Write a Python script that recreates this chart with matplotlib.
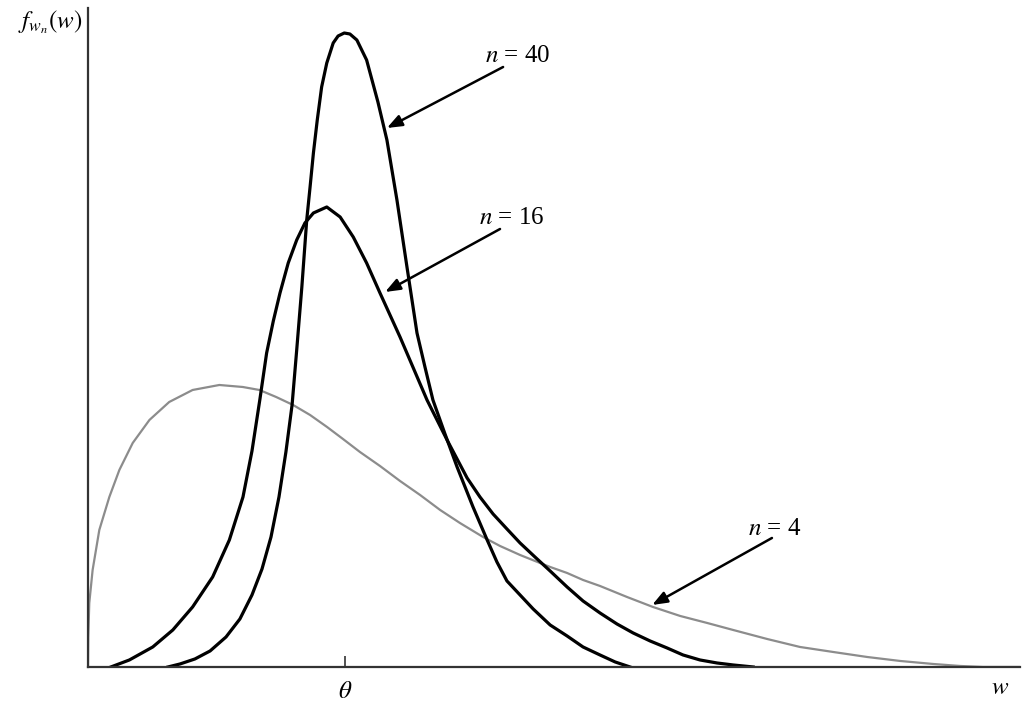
import matplotlib
matplotlib.use("Agg")
import matplotlib.pyplot as plt

plt.rcParams['mathtext.fontset'] = 'stix'
plt.rcParams['font.family'] = 'Liberation Serif'

# values (theta = 1, density in arbitrary units)
w_n40 = [0.311, 0.358, 0.416, 0.475, 0.537, 0.591, 0.638, 0.677, 0.712, 0.743, 0.770, 0.794,
         0.812, 0.832, 0.851, 0.864, 0.877, 0.892, 0.909, 0.929, 0.954, 0.973, 0.997,
         1.019, 1.046, 1.084, 1.128, 1.163, 1.202, 1.241, 1.280, 1.311, 1.342, 1.389, 1.436,
         1.498, 1.553, 1.591, 1.630, 1.681, 1.732, 1.798, 1.864, 1.926, 1.992, 2.051, 2.109]
f_n40 = [0, 0.03, 0.08, 0.16, 0.30, 0.48, 0.72, 0.98, 1.30, 1.70, 2.15, 2.62,
         3.17, 3.80, 4.47, 4.80, 5.14, 5.47, 5.80, 6.04, 6.24, 6.31, 6.34,
         6.33, 6.27, 6.07, 5.65, 5.27, 4.67, 4.00, 3.34, 3.00, 2.67, 2.33, 2.00,
         1.60, 1.27, 1.05, 0.86, 0.72, 0.58, 0.42, 0.31, 0.20, 0.12, 0.05, 0]

w_n16 = [0.089, 0.161, 0.252, 0.330, 0.407, 0.485, 0.550, 0.603, 0.638, 0.669, 0.695, 0.721,
         0.747, 0.779, 0.812, 0.844, 0.877, 0.929, 0.981, 1.032, 1.084, 1.136, 1.214, 1.319,
         1.397, 1.436, 1.475, 1.525, 1.576, 1.630, 1.681, 1.739, 1.798, 1.864, 1.926, 1.992,
         2.058, 2.121, 2.187, 2.253, 2.315, 2.381, 2.447, 2.510, 2.588]
f_n16 = [0, 0.07, 0.20, 0.37, 0.60, 0.90, 1.27, 1.70, 2.16, 2.68, 3.14, 3.46,
         3.74, 4.04, 4.27, 4.44, 4.54, 4.60, 4.50, 4.30, 4.04, 3.74, 3.30, 2.67,
         2.27, 2.08, 1.89, 1.70, 1.53, 1.38, 1.24, 1.10, 0.96, 0.80, 0.66, 0.54,
         0.43, 0.34, 0.26, 0.19, 0.12, 0.07, 0.04, 0.02, 0]

w_n4 = [0, 0.001, 0.005, 0.018, 0.044, 0.083, 0.122, 0.174, 0.239, 0.316, 0.407, 0.511,
        0.602, 0.667, 0.732, 0.798, 0.864, 0.930, 0.992, 1.058, 1.136, 1.214, 1.292, 1.370,
        1.447, 1.537, 1.603, 1.681, 1.739, 1.798, 1.864, 1.926, 1.992, 2.097, 2.198, 2.304,
        2.409, 2.510, 2.642, 2.770, 2.899, 3.031, 3.160, 3.288, 3.393, 3.482, 3.626]
f_n4 = [0, 0.30, 0.64, 0.97, 1.37, 1.70, 1.97, 2.24, 2.47, 2.65, 2.77, 2.82,
        2.80, 2.77, 2.70, 2.62, 2.52, 2.40, 2.28, 2.15, 2.01, 1.86, 1.72, 1.57,
        1.44, 1.30, 1.21, 1.12, 1.06, 1.00, 0.94, 0.87, 0.81, 0.70, 0.60, 0.51,
        0.44, 0.37, 0.28, 0.20, 0.15, 0.10, 0.06, 0.03, 0.01, 0, 0]

labels = [r'$n$ = 40', r'$n$ = 16', r'$n$ = 4']
theta = 1.0

fig = plt.figure(figsize=(10.28, 7.02), dpi=100)
ax = fig.add_axes([0.0856, 0.0499, 0.9066, 0.9387])

ax.plot(w_n4, f_n4, color='#8c8c8c', lw=1.6, solid_joinstyle='round')
ax.plot(w_n16, f_n16, color='black', lw=2.3, solid_joinstyle='round')
ax.plot(w_n40, f_n40, color='black', lw=2.3, solid_joinstyle='round')

ax.set_xlim(0, 3.626)
ax.set_ylim(0, 6.59)

for s in ['top', 'right']:
    ax.spines[s].set_visible(False)
for s in ['left', 'bottom']:
    ax.spines[s].set_linewidth(1.6)
    ax.spines[s].set_color('#333333')

ax.set_yticks([])
ax.set_xticks([theta])
ax.set_xticklabels([r'$\theta$'], fontsize=18)
ax.tick_params(axis='x', direction='in', length=8, width=1.2, pad=10, color='#333333')

# labels and arrows
text_pos = [(1.673, 6.11), (1.650, 4.49), (2.673, 1.38)]
tails = [(1.615, 6.00), (1.603, 4.38), (2.661, 1.29)]
heads = [(1.163, 5.39), (1.156, 3.75), (2.195, 0.62)]
for lab, tp, t, h in zip(labels, text_pos, tails, heads):
    ax.text(tp[0], tp[1], lab, fontsize=18, ha='center', va='center')
    ax.annotate('', xy=h, xytext=t,
                arrowprops=dict(arrowstyle='-|>,head_length=0.9,head_width=0.35',
                                color='black', lw=1.8, shrinkA=0, shrinkB=0))

fig.text(50 / 1028, 1 - 22 / 702, r'$f_{w_n}(w)$', fontsize=18, ha='center', va='center')
fig.text(1000 / 1028, 1 - 688 / 702, r'$w$', fontsize=18, ha='center', va='center')

fig.savefig('out.png', dpi=100)
